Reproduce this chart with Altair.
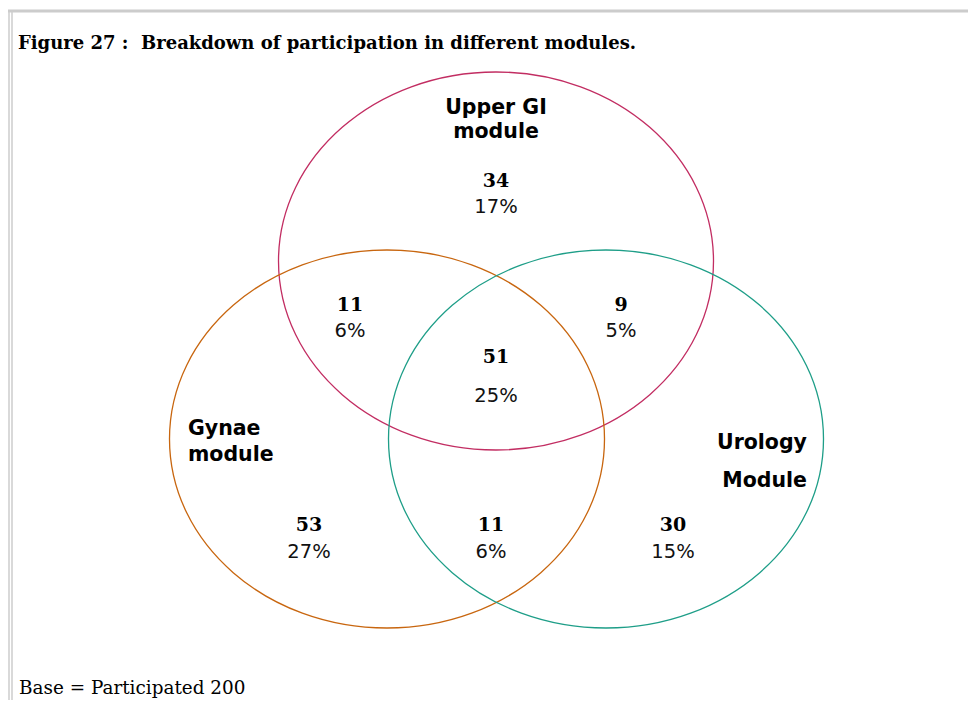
import altair as alt
import pandas as pd

# ---- data ----
modules = ["Upper GI", "Gynae", "Urology"]
circle_cx = [496, 387, 606]
circle_cy = [261, 439, 439]
circle_colors = ["#C22D62", "#C8660F", "#1E9E88"]

regions = ["Upper GI only", "Upper GI & Gynae", "Upper GI & Urology", "All three",
           "Gynae only", "Gynae & Urology", "Urology only"]
counts = [34, 11, 9, 51, 53, 11, 30]
percents = ["17%", "6%", "5%", "25%", "27%", "6%", "15%"]
count_x = [496, 350, 621, 496, 309, 491, 673]
count_y = [181, 305, 305, 357, 525, 525, 525]
pct_y = [207, 331, 331, 396, 552, 552, 552]

center_labels = ["Upper GI", "module"]
center_label_x = [496, 496]
center_label_y = [108, 132]
left_labels = ["Gynae", "module"]
left_label_x = [188, 188]
left_label_y = [429, 455]
right_labels = ["Urology", "Module"]
right_label_x = [807, 807]
right_label_y = [443, 481]

title_text = "Figure 27 :\u00a0 Breakdown of participation in different modules."
footer_text = "Base = Participated 200"

W, H = 960, 692
xs = alt.Scale(domain=[8, 968], nice=False, zero=False)
ys = alt.Scale(domain=[8, 700], nice=False, zero=False, reverse=True)

circles = pd.DataFrame({"module": modules, "cx": circle_cx, "cy": circle_cy})
rx, ry = 217.5, 189.0
ratio = ry / rx
ellipse_path = f"M -1 0 A 1 {ratio:.4f} 0 1 1 1 0 A 1 {ratio:.4f} 0 1 1 -1 0 Z"

ell = alt.Chart(circles).mark_point(
    shape=ellipse_path, filled=False, strokeWidth=1.3, opacity=1,
    size=(2 * rx) ** 2,
).encode(
    x=alt.X("cx:Q", scale=xs, axis=None),
    y=alt.Y("cy:Q", scale=ys, axis=None),
    color=alt.Color("module:N", scale=alt.Scale(domain=modules, range=circle_colors), legend=None),
)

reg = pd.DataFrame({"region": regions, "count": counts, "pct": percents,
                    "x": count_x, "cy": count_y, "py": pct_y})

cnt = alt.Chart(reg).mark_text(
    font="DejaVu Serif", fontWeight="bold", fontSize=19, baseline="middle", color="#000"
).encode(x=alt.X("x:Q", scale=xs), y=alt.Y("cy:Q", scale=ys), text="count:Q")

pct = alt.Chart(reg).mark_text(
    font="DejaVu Sans", fontSize=19.5, baseline="middle", color="#111"
).encode(x=alt.X("x:Q", scale=xs), y=alt.Y("py:Q", scale=ys), text="pct:N")

def labels(texts, xs_, ys_, align):
    df = pd.DataFrame({"t": texts, "x": xs_, "y": ys_})
    return alt.Chart(df).mark_text(
        font="DejaVu Sans", fontWeight="bold", fontSize=20.5, baseline="middle",
        align=align, color="#000"
    ).encode(x=alt.X("x:Q", scale=xs), y=alt.Y("y:Q", scale=ys), text="t:N")

lab_c = labels(center_labels, center_label_x, center_label_y, "center")
lab_l = labels(left_labels, left_label_x, left_label_y, "left")
lab_r = labels(right_labels, right_label_x, right_label_y, "right")

title = alt.Chart(pd.DataFrame({"t": [title_text], "x": [18], "y": [44]})).mark_text(
    font="DejaVu Serif", fontWeight="bold", fontSize=18, baseline="middle", align="left", color="#000"
).encode(x=alt.X("x:Q", scale=xs), y=alt.Y("y:Q", scale=ys), text="t:N")

footer = alt.Chart(pd.DataFrame({"t": [footer_text], "x": [19], "y": [688]})).mark_text(
    font="DejaVu Serif", fontSize=18.4, baseline="middle", align="left", color="#000"
).encode(x=alt.X("x:Q", scale=xs), y=alt.Y("y:Q", scale=ys), text="t:N")

# gray frame lines (top and left)
frame_top = alt.Chart(pd.DataFrame({"a": [0]})).mark_rule(color="#CCCCCC", strokeWidth=3).encode(
    x=alt.value(0), x2=alt.value(W), y=alt.value(3))
frame_left1 = alt.Chart(pd.DataFrame({"a": [0]})).mark_rule(color="#CCCCCC", strokeWidth=1.5).encode(
    x=alt.value(1), y=alt.value(2), y2=alt.value(H))
frame_left2 = alt.Chart(pd.DataFrame({"a": [0]})).mark_rule(color="#CCCCCC", strokeWidth=1.5).encode(
    x=alt.value(4), y=alt.value(4), y2=alt.value(H))

chart = alt.layer(
    frame_top, frame_left1, frame_left2, ell, cnt, pct, lab_c, lab_l, lab_r, title, footer
).properties(
    width=W, height=H, autosize=alt.AutoSizeParams(type="none"), padding=0,
    background="white",
).configure_view(stroke=None)

chart.save("out.html", embed_options={"renderer": "svg", "actions": False})
